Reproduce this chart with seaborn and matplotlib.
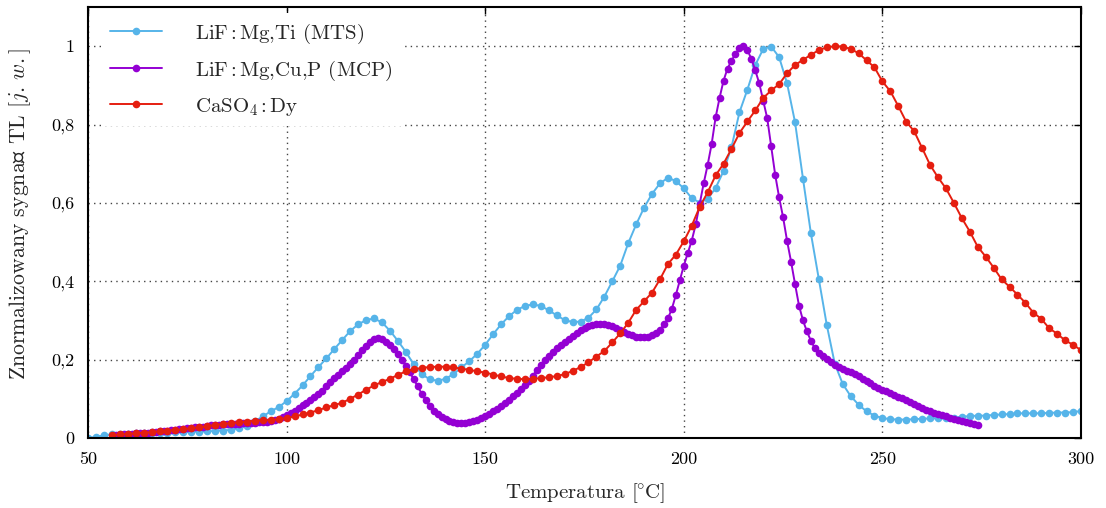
import numpy as np
import pandas as pd
import matplotlib
matplotlib.use("Agg")
import matplotlib.pyplot as plt
import seaborn as sns

# --- DANE ---
# LiF:Mg,Ti (MTS), krok 2 st. C od 50 do 300
temp_mts = np.arange(50, 301, 2)
tl_mts = [
    0.000, 0.003, 0.007, 0.009, 0.010, 0.011, 0.012, 0.013, 0.013, 0.014,
    0.014, 0.015, 0.015, 0.016, 0.016, 0.017, 0.018, 0.019, 0.021, 0.025,
    0.031, 0.043, 0.055, 0.068, 0.079, 0.094, 0.113, 0.134, 0.158, 0.181,
    0.203, 0.227, 0.250, 0.273, 0.290, 0.301, 0.305, 0.295, 0.274, 0.248,
    0.220, 0.188, 0.163, 0.150, 0.146, 0.151, 0.163, 0.180, 0.196, 0.215,
    0.238, 0.265, 0.290, 0.311, 0.327, 0.337, 0.341, 0.337, 0.326, 0.313,
    0.301, 0.296, 0.297, 0.307, 0.328, 0.361, 0.400, 0.440, 0.497, 0.545,
    0.588, 0.623, 0.650, 0.664, 0.656, 0.637, 0.612, 0.601, 0.610, 0.638,
    0.681, 0.742, 0.831, 0.889, 0.952, 0.993, 0.999, 0.972, 0.905, 0.806,
    0.662, 0.522, 0.405, 0.288, 0.190, 0.138, 0.107, 0.085, 0.068, 0.057,
    0.051, 0.048, 0.047, 0.047, 0.048, 0.049, 0.050, 0.050, 0.051, 0.052,
    0.054, 0.056, 0.057, 0.057, 0.059, 0.060, 0.061, 0.063, 0.063, 0.063,
    0.063, 0.064, 0.065, 0.065, 0.066, 0.069,
]

# LiF:Mg,Cu,P (MCP), krok 1 st. C od 57 do 274
temp_mcp = np.arange(57, 275, 1)
tl_mcp = [
    0.007, 0.008, 0.009, 0.010, 0.011, 0.012, 0.013, 0.013, 0.014, 0.015,
    0.016, 0.017, 0.018, 0.019, 0.020, 0.021, 0.022, 0.024, 0.025, 0.026,
    0.027, 0.028, 0.029, 0.031, 0.032, 0.033, 0.034, 0.035, 0.036, 0.036,
    0.037, 0.037, 0.038, 0.038, 0.039, 0.039, 0.040, 0.041, 0.042, 0.044,
    0.046, 0.049, 0.053, 0.058, 0.063, 0.069, 0.076, 0.083, 0.090, 0.097,
    0.104, 0.112, 0.121, 0.132, 0.143, 0.153, 0.160, 0.170, 0.179, 0.188,
    0.200, 0.212, 0.224, 0.236, 0.245, 0.252, 0.255, 0.252, 0.246, 0.237,
    0.227, 0.214, 0.200, 0.185, 0.168, 0.150, 0.132, 0.113, 0.096, 0.081,
    0.069, 0.060, 0.053, 0.048, 0.044, 0.041, 0.039, 0.038, 0.038, 0.040,
    0.043, 0.046, 0.050, 0.055, 0.061, 0.068, 0.075, 0.082, 0.089, 0.097,
    0.106, 0.115, 0.124, 0.134, 0.146, 0.159, 0.173, 0.186, 0.198, 0.209,
    0.219, 0.229, 0.237, 0.245, 0.252, 0.260, 0.268, 0.275, 0.282, 0.286,
    0.288, 0.290, 0.291, 0.291, 0.289, 0.285, 0.281, 0.276, 0.271, 0.266,
    0.262, 0.259, 0.257, 0.257, 0.258, 0.262, 0.267, 0.276, 0.290, 0.305,
    0.330, 0.365, 0.403, 0.440, 0.472, 0.504, 0.545, 0.597, 0.650, 0.697,
    0.750, 0.818, 0.868, 0.912, 0.943, 0.963, 0.980, 0.995, 1.000, 0.990,
    0.968, 0.938, 0.905, 0.860, 0.816, 0.745, 0.672, 0.614, 0.563, 0.503,
    0.450, 0.393, 0.338, 0.300, 0.272, 0.248, 0.229, 0.218, 0.210, 0.202,
    0.194, 0.186, 0.181, 0.177, 0.172, 0.168, 0.163, 0.157, 0.150, 0.145,
    0.140, 0.133, 0.127, 0.123, 0.119, 0.114, 0.109, 0.105, 0.101, 0.096,
    0.092, 0.087, 0.082, 0.077, 0.072, 0.068, 0.064, 0.061, 0.058, 0.055,
    0.052, 0.049, 0.046, 0.044, 0.041, 0.038, 0.035, 0.033,
]

# CaSO4:Dy, krok 2 st. C od 56 do 300
temp_caso = np.arange(56, 301, 2)
tl_caso = [
    0.007, 0.009, 0.010, 0.012, 0.013, 0.015, 0.017, 0.019, 0.020, 0.022,
    0.025, 0.027, 0.030, 0.033, 0.036, 0.038, 0.040, 0.042, 0.044, 0.045,
    0.046, 0.048, 0.051, 0.055, 0.060, 0.065, 0.071, 0.078, 0.084, 0.090,
    0.100, 0.111, 0.123, 0.134, 0.143, 0.151, 0.161, 0.170, 0.175, 0.179,
    0.181, 0.182, 0.182, 0.180, 0.177, 0.174, 0.170, 0.167, 0.162, 0.157,
    0.153, 0.151, 0.150, 0.151, 0.153, 0.155, 0.158, 0.163, 0.171, 0.181,
    0.193, 0.208, 0.222, 0.244, 0.267, 0.294, 0.327, 0.349, 0.371, 0.405,
    0.444, 0.468, 0.502, 0.542, 0.590, 0.627, 0.670, 0.700, 0.738, 0.778,
    0.808, 0.836, 0.868, 0.887, 0.903, 0.931, 0.952, 0.965, 0.978, 0.990,
    0.997, 1.000, 0.999, 0.993, 0.982, 0.964, 0.946, 0.910, 0.885, 0.847,
    0.807, 0.783, 0.740, 0.697, 0.665, 0.637, 0.600, 0.561, 0.527, 0.488,
    0.463, 0.435, 0.405, 0.386, 0.366, 0.345, 0.320, 0.304, 0.280, 0.266,
    0.249, 0.238, 0.224,
]

labels = [
    r"LiF$\,$:$\,$Mg,Ti (MTS)",
    r"LiF$\,$:$\,$Mg,Cu,P (MCP)",
    r"CaSO$_4$$\,$:$\,$Dy",
]
colors = ["#56b4e9", "#9400d3", "#e51e10"]

x_ticks = [50, 100, 150, 200, 250, 300]
y_ticks = [0, 0.2, 0.4, 0.6, 0.8, 1.0]
y_tick_labels = ["0", "0,2", "0,4", "0,6", "0,8", "1"]

# --- STYL ---
sns.set_style("white")
plt.rcParams["font.family"] = ["cmr10", "DejaVu Serif"]
plt.rcParams["mathtext.fontset"] = "cm"
plt.rcParams["axes.formatter.use_mathtext"] = True
plt.rcParams["axes.unicode_minus"] = False

fig = plt.figure(figsize=(11.06, 5.08), dpi=100)
ax = fig.add_axes([0.0796, 0.1378, 0.8978, 0.8484])

series = [(temp_mts, tl_mts), (temp_mcp, tl_mcp), (temp_caso, tl_caso)]
for (tx, ty), lab, col in zip(series, labels, colors):
    df = pd.DataFrame({"T": tx, "TL": ty})
    sns.lineplot(data=df, x="T", y="TL", ax=ax, color=col, label=lab,
                 marker="o", markersize=5.5, markeredgewidth=0,
                 linewidth=1.4, estimator=None, sort=False)

ax.set_xlim(50, 300)
ax.set_ylim(0, 1.1)
ax.set_xticks(x_ticks)
ax.set_xticklabels([str(t) for t in x_ticks])
ax.set_yticks(y_ticks)
ax.set_yticklabels(y_tick_labels)
ax.tick_params(direction="in", length=5, width=1, top=True, right=True,
               labelsize=13, pad=10, colors="black")
ax.grid(True, linestyle=(0, (1, 3)), color="#444444", linewidth=1)
ax.set_axisbelow(True)
for s in ax.spines.values():
    s.set_linewidth(1.5)
    s.set_color("black")

ax.set_xlabel(r"Temperatura $[{}^{\!\!\circ}\!\mathrm{C}]$", fontsize=15, labelpad=10)
ax.set_ylabel(r"Znormalizowany sygnał TL [$j.\,w.$]", fontsize=15.7)
ax.yaxis.set_label_coords(-0.055, 0.52)

leg = ax.legend(loc="upper left", bbox_to_anchor=(0.007, 1.0), fontsize=15,
                frameon=True, fancybox=False, handlelength=2.5,
                handletextpad=1.6, labelspacing=0.62,
                borderaxespad=0.3, borderpad=0.4)
leg.get_frame().set_edgecolor("none")
leg.get_frame().set_facecolor("white")
leg.get_frame().set_alpha(1)

fig.savefig("out.png", dpi=100)
